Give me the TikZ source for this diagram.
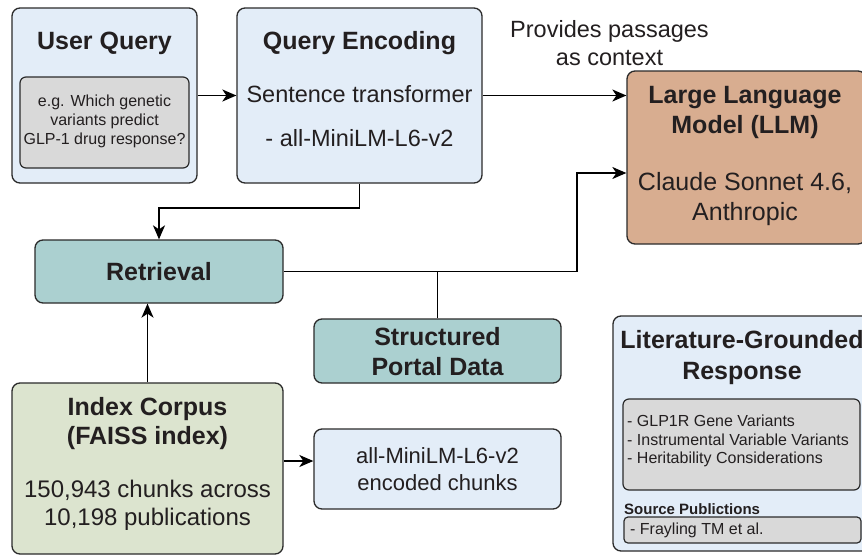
\documentclass[tikz,border=0pt]{standalone}
\usepackage{fontspec}
\setmainfont{Liberation Sans}
\usetikzlibrary{arrows.meta}
\definecolor{lblue}{HTML}{E3EDF8}
\definecolor{lgray}{HTML}{D9D9D9}
\definecolor{llmc}{HTML}{D8AD90}
\definecolor{tealc}{HTML}{ABD0D0}
\definecolor{greenc}{HTML}{DCE4CF}
\definecolor{txt}{HTML}{231F20}
\definecolor{edge}{HTML}{2B2B2B}
\begin{document}
\begin{tikzpicture}[x=1pt,y=-1pt,
  box/.style={draw=edge,line width=1.3pt,rounded corners=8pt,inner sep=0pt},
  ibox/.style={draw=edge,line width=1.2pt,rounded corners=6pt,inner sep=0pt,fill=lgray},
  lbl/.style={text=txt,align=center,inner sep=0pt},
  ttl/.style={lbl,font=\fontsize{25}{30}\selectfont\bfseries},
  body/.style={lbl,font=\fontsize{23.5}{29}\selectfont},
  small/.style={lbl,font=\fontsize{16}{19}\selectfont},
  conn/.style={draw=black,line width=1.4pt},
  arr/.style={conn,-{Stealth[length=14pt,width=12pt,inset=4pt]}}]
\clip (0,0) rectangle (862,557);
\fill[white] (0,0) rectangle (862,557);
% boxes
\node[box,fill=lblue,minimum width=185pt,minimum height=175pt] (uq) at (104.5,95.5) {};
\node[ibox,minimum width=169pt,minimum height=91pt] (uqi) at (104.5,122.5) {};
\node[box,fill=lblue,minimum width=245pt,minimum height=175pt] (qe) at (359.5,95.5) {};
\node[box,fill=llmc,minimum width=239pt,minimum height=173pt] (llm) at (746.5,157.5) {};
\node[box,fill=tealc,minimum width=248pt,minimum height=63pt] (ret) at (159,271.5) {};
\node[box,fill=tealc,minimum width=247pt,minimum height=64pt] (sp) at (437.5,351) {};
\node[box,fill=greenc,minimum width=271pt,minimum height=171pt] (ic) at (147.5,468.5) {};
\node[box,fill=lblue,minimum width=247pt,minimum height=80pt] (enc) at (437.5,469) {};
\node[box,fill=lblue,minimum width=259pt,minimum height=235pt] (lit) at (742.5,433.5) {};
\node[ibox,minimum width=237pt,minimum height=91pt] (liti) at (741.5,444.5) {};
\node[ibox,rounded corners=4pt,minimum width=237pt,minimum height=26pt] (lits) at (742.5,530) {};
% texts
\node[ttl] (uqt) at (104.5,43) {User Query};
\node[small] (uqx) at (104.5,121) {e.g. Which genetic\\variants predict\\GLP-1 drug response?};
\node[ttl] (qet) at (359.5,43) {Query Encoding};
\node[body] (qe1) at (359.5,94) {Sentence transformer};
\node[body] (qe2) at (359.5,138) {- all-MiniLM-L6-v2};
\node[body,font=\fontsize{23.5}{28}\selectfont] (prov) at (609.5,43) {Provides passages\\as context};
\node[ttl] (llmt) at (745,112) {Large Language\\Model (LLM)};
\node[body,font=\fontsize{25}{30}\selectfont] (llmb) at (745,199) {Claude Sonnet 4.6,\\Anthropic};
\node[ttl] (rett) at (159,271.5) {Retrieval};
\node[ttl] (spt) at (437.5,352) {Structured\\Portal Data};
\node[ttl,font=\fontsize{25}{29}\selectfont\bfseries] (ict) at (147.5,423.5) {Index Corpus\\(FAISS index)};
\node[body,font=\fontsize{24}{28}\selectfont] (icb) at (147.5,505) {150,943 chunks across\\10,198 publications};
\node[body,font=\fontsize{22}{27}\selectfont] (enct) at (437.5,469) {all-MiniLM-L6-v2\\encoded chunks};
\node[ttl,font=\fontsize{25}{31}\selectfont\bfseries] (litt) at (742,358) {Literature-Grounded\\Response};
\node[small,align=left,anchor=west,font=\fontsize{16}{18.5}\selectfont] (litl) at (627,441) {- GLP1R Gene Variants\\- Instrumental Variable Variants\\- Heritability Considerations};
\node[lbl,anchor=west,font=\fontsize{15}{18}\selectfont\bfseries] (srct) at (624,509) {Source Publictions};
\node[small,anchor=west] (fray) at (630,530) {- Frayling TM et al.};
% connectors
\coordinate (b1) at (358,208);
\coordinate (b2) at (577,173);
\coordinate (b3) at (283,461);
\draw[arr] (uq.east) -- (qe.west);
\draw[arr] (qe.east) -- (qe.east -| llm.west);
\draw[arr] (qe.south) -- (qe.south |- b1) -| (ret.north);
\draw[arr] (ret.east) -| (b2) -- (b2 -| llm.west);
\draw[conn] (sp.north) -- (sp.north |- ret.east);
\draw[arr] (ic.north) -- (ic.north |- ret.south);
\draw[arr] (ic.east |- b3) -- (enc.west |- b3);
\end{tikzpicture}
\end{document}
